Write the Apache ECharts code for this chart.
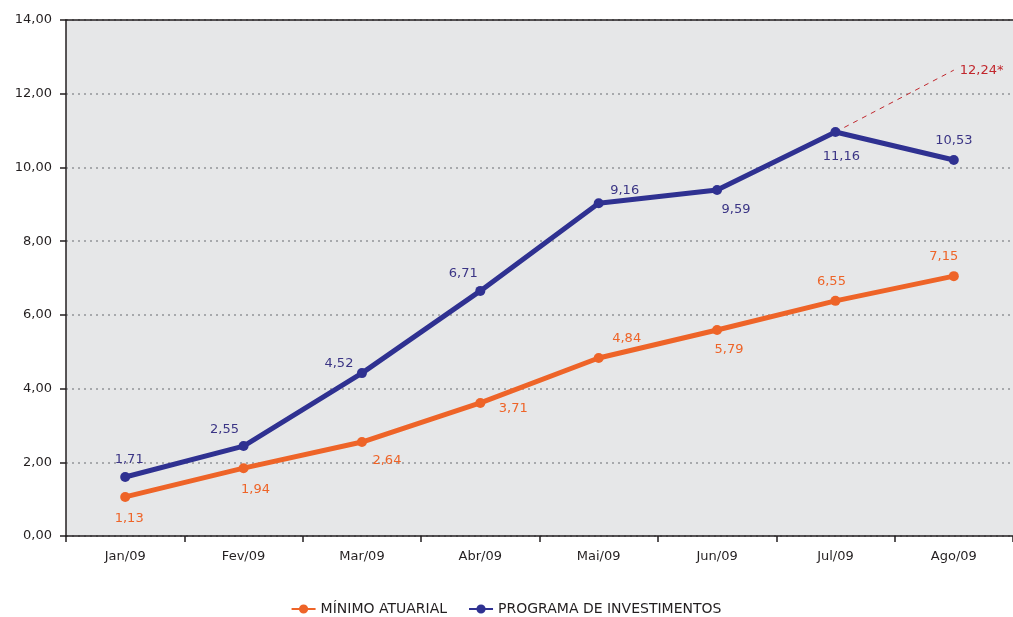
<!DOCTYPE html>
<html>
<head>
<meta charset="utf-8">
<script src="https://cdn.jsdelivr.net/npm/echarts@6/dist/echarts.min.js"></script>
<style>
  html, body { margin: 0; padding: 0; background: #fff; }
  #chart { width: 1013px; height: 617px; }
</style>
</head>
<body>
<div id="chart"></div>
<script>
// categories and values
var months = ['Jan/09', 'Fev/09', 'Mar/09', 'Abr/09', 'Mai/09', 'Jun/09', 'Jul/09', 'Ago/09']
var minimoValues = [1.06, 1.84, 2.55, 3.61, 4.83, 5.59, 6.38, 7.05]
var minimoLabels = ['1,13', '1,94', '2,64', '3,71', '4,84', '5,79', '6,55', '7,15']
var programaValues = [1.60, 2.44, 4.42, 6.65, 9.03, 9.39, 10.96, 10.20]
var programaLabels = ['1,71', '2,55', '4,52', '6,71', '9,16', '9,59', '11,16', '10,53']
var projecaoValues = [null, null, null, null, null, null, 10.96, 12.64]
var projecaoLabel = '12,24*'

var ORANGE = '#ee6428'
var BLUE = '#2f3191'
var BLUE_TXT = '#3b3585'
var RED = '#c1272d'
var FONT = 'DejaVu Sans'

// label placement per point: [position, dx, dy]
var minimoPlace = [['bottom', 4, 2], ['bottom', 12, 2], ['bottom', 25, -1], ['bottom', 33, -14], ['top', 28, 0], ['bottom', 12, 0], ['top', -4, 0], ['top', -10, 0]]
var programaPlace = [['top', 4, 2], ['top', -19, 3], ['top', -23, 10], ['top', -17, 2], ['top', 26, 7], ['bottom', 19, 0], ['bottom', 6, 5], ['top', 0, 0]]

function buildData(values, labels, place) {
    return values.map(function (v, i) {
        return {
            value: v,
            label: { formatter: labels[i], position: place[i][0], offset: [place[i][1], place[i][2]] },
        }
    })
}

var chart = echarts.init(document.getElementById('chart'))

var legendIcon = 'path://M0,5 L26,5 L26,7 L0,7 Z M13,1 A5,5 0 1,1 12.99,1 Z'

chart.setOption({
    animation: false,
    textStyle: { fontFamily: FONT },
    grid: {
        left: 66,
        top: 20,
        width: 952,
        bottom: 81,
        show: true,
        backgroundColor: '#e6e7e8',
        borderWidth: 0,
    },
    legend: {
        top: 597,
        left: 'center',
        itemWidth: 24,
        itemHeight: 11,
        itemGap: 22,
        textStyle: { fontFamily: FONT, fontSize: 14, color: '#231f20' },
        data: [
            { name: 'MÍNIMO ATUARIAL', icon: legendIcon },
            { name: 'PROGRAMA DE INVESTIMENTOS', icon: legendIcon },
        ],
    },
    xAxis: [
        {
            type: 'category',
            data: months,
            boundaryGap: true,
            axisLine: { lineStyle: { color: '#231f20', width: 1.5 } },
            axisTick: { show: true, length: 6, lineStyle: { color: '#231f20', width: 1.5 } },
            axisLabel: { color: '#231f20', fontSize: 13, margin: 14, fontFamily: FONT },
        },
        {
            type: 'category',
            position: 'top',
            data: months,
            axisLine: { show: true, lineStyle: { color: '#231f20', width: 1.5 } },
            axisTick: { show: false },
            axisLabel: { show: false },
        },
    ],
    yAxis: {
        type: 'value',
        min: 0,
        max: 14,
        interval: 2,
        axisLine: { show: true, lineStyle: { color: '#231f20', width: 1.5 } },
        axisTick: { show: true, length: 6, lineStyle: { color: '#231f20', width: 1.5 } },
        axisLabel: {
            color: '#231f20',
            fontSize: 13,
            margin: 14,
            fontFamily: FONT,
            formatter: function (v) {
                return v.toFixed(2).replace('.', ',')
            },
        },
        splitLine: { show: true, lineStyle: { color: '#a7a9ac', type: [2, 4], width: 2 } },
    },
    series: [
        {
            name: 'projecao',
            type: 'line',
            data: projecaoValues,
            symbol: 'none',
            lineStyle: { color: RED, width: 1, type: [5, 5] },
            endLabel: { show: true, formatter: projecaoLabel, color: RED, fontSize: 13, fontFamily: FONT, distance: 6 },
            z: 1,
            silent: true,
        },
        {
            name: 'MÍNIMO ATUARIAL',
            type: 'line',
            data: buildData(minimoValues, minimoLabels, minimoPlace),
            symbol: 'circle',
            symbolSize: 10,
            itemStyle: { color: ORANGE },
            lineStyle: { color: ORANGE, width: 5 },
            label: { show: true, color: ORANGE, fontSize: 13, fontFamily: FONT, distance: 8 },
            z: 3,
        },
        {
            name: 'PROGRAMA DE INVESTIMENTOS',
            type: 'line',
            data: buildData(programaValues, programaLabels, programaPlace),
            symbol: 'circle',
            symbolSize: 10,
            itemStyle: { color: BLUE },
            lineStyle: { color: BLUE, width: 5 },
            label: { show: true, color: BLUE_TXT, fontSize: 13, fontFamily: FONT, distance: 8 },
            z: 4,
        },
    ],
})
</script>
</body>
</html>
